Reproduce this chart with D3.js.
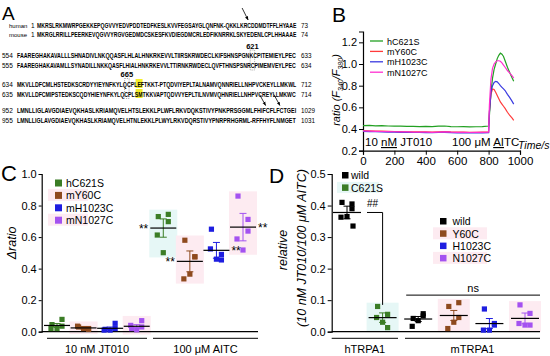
<!DOCTYPE html>
<html>
<head>
<meta charset="utf-8">
<script src="https://cdn.jsdelivr.net/npm/d3@7"></script>
<style>
  body { margin: 0; background: #fff; }
  text { font-family: "Liberation Sans", Arial, sans-serif; fill: #000; }
</style>
</head>
<body>
<script>
// ---------- panel A: alignment text ----------
var seqNames = ["human", "mouse", "554", "555", "634", "635", "952", "955"];
var seqFirst = ["1", "1", "", "", "", "", "", ""];
var seqStrings = [
  "MKRSLRKMWRPGEKKEPQGVVYEDVPDDTEDFKESLKVVFEGSAYGLQNFNK-QKKLKRCDDMDTFFLHYAAE",
  "MKRGLRRILLPEERKEVQGVVYRGVGEDMDCSKESFKVDIEGDMCRLEDFIKNRRKLSKYEDENLCPLHHAAAE",
  "FAAREGHAKAVALLLSHNADIVLNKQQASFLHLALHNKRKEVVLTIIRSKRWDECLKIFSHNSPGNKCPITEMIEYLPEC",
  "FAAREGHAKAVAMLLSYNADILLNKKQASFLHIALHNKRKEVVLTTIRNKRWDECLQVFTHNSPSNRCPIMEMVEYLPEC",
  "MKVLLDFCMLHSTEDKSCRDYYIEYNFKYLQCPLEFTKKT-PTQDVIYEPLTALNAMVQNNRIELLNHPVCKEYLLMKWL",
  "MKVLLDFCMIPSTEDKSCQDYHIEYNFKYLQCPLSMTKKVAPTQDVVYEPLTILNVMVQHNRIELLNHPVCREYLLMKWC",
  "LMNLLIGLAVGDIAEVQKHASLKRIAMQVELHTSLEKKLPLWFLRKVDQKSTIVYPNKPRSGGMLFHIFCFLFCTGEI",
  "LMNLLIGLAVGDIAEVQKHASLKRIAMQVELHTNLEKKLPLWYLRKVDQRSTIVYPNRPRHGRML-RFFHYFLNMGET"
];
var seqLast = ["73", "74", "633", "634", "712", "714", "1029", "1031"];
var siteLabels = ["621", "665"];

// ---------- panel B: Ca traces ----------
var traceTime = [0, 40, 80, 120, 160, 200, 240, 280, 320, 360, 400, 440, 480, 520, 560, 600, 640, 680, 720, 760, 800,
  805, 815, 825, 835, 845, 855, 865, 875, 885, 895, 905, 920, 935, 950, 960];
var traceNames = ["hC621S", "mY60C", "mH1023C", "mN1027C"];
var traceC621S = [0.432, 0.434, 0.430, 0.431, 0.428, 0.426, 0.427, 0.425, 0.424, 0.423, 0.424, 0.422, 0.426, 0.428, 0.423, 0.421, 0.422, 0.420, 0.421, 0.423, 0.428,
  0.52, 0.74, 0.87, 0.95, 1.00, 1.05, 1.08, 1.10, 1.09, 1.07, 1.03, 0.97, 0.92, 0.87, 0.84];
var traceY60C = [0.385, 0.383, 0.381, 0.380, 0.378, 0.377, 0.376, 0.375, 0.374, 0.373, 0.373, 0.372, 0.374, 0.376, 0.373, 0.372, 0.371, 0.370, 0.370, 0.371, 0.372,
  0.56, 0.72, 0.77, 0.765, 0.74, 0.71, 0.68, 0.65, 0.63, 0.61, 0.59, 0.555, 0.525, 0.50, 0.48];
var traceH1023C = [0.378, 0.376, 0.375, 0.374, 0.372, 0.371, 0.370, 0.369, 0.368, 0.368, 0.367, 0.366, 0.368, 0.369, 0.366, 0.365, 0.365, 0.364, 0.364, 0.365, 0.366,
  0.55, 0.74, 0.80, 0.83, 0.84, 0.835, 0.82, 0.80, 0.785, 0.77, 0.755, 0.72, 0.69, 0.655, 0.63];
var traceN1027C = [0.382, 0.380, 0.378, 0.377, 0.376, 0.375, 0.374, 0.373, 0.372, 0.372, 0.371, 0.370, 0.372, 0.374, 0.371, 0.370, 0.369, 0.368, 0.369, 0.370, 0.371,
  0.62, 0.86, 0.96, 1.00, 1.02, 1.03, 1.03, 1.025, 1.01, 0.99, 0.97, 0.94, 0.915, 0.89, 0.87];
var traceColors = ["#22a022", "#ff3b3b", "#3a3ae0", "#ff30d0"];
var bTicksY = [0.2, 0.4, 0.6, 0.8, 1.0, 1.2];
var bTicksX = [0, 200, 400, 600, 800, 1000];

// ---------- panel C: delta ratio ----------
var cNames = ["hC621S", "mY60C", "mH1023C", "mN1027C"];
var cColors = ["#3b7d26", "#8e4a1e", "#1e1ee0", "#a452f0"];
var cJT010 = [[0.045, 0.078, 0.035, 0.02, 0.02], [0.03, 0.02, 0.015, 0.035, 0.02], [0.015, 0.02, 0.053, 0.01, 0.01], [0.02, 0.03, 0.07, 0.04, 0.012]];
var cAITC = [[0.73, 0.744, 0.698, 0.613, 0.501], [0.58, 0.475, 0.475, 0.335, 0.365], [0.65, 0.455, 0.49, 0.525, 0.46], [0.86, 0.712, 0.638, 0.588, 0.518]];
var cErrJT010 = [0.012, 0.005, 0.008, 0.01];
var cErrAITC = [0.058, 0.066, 0.05, 0.087];
var cTicks = [0, 0.2, 0.4, 0.6, 0.8, 1.0];
var cConditions = ["10 nM JT010", "100 \u03bcM AITC"];

// ---------- panel D: relative response ----------
var dNames = ["wild", "C621S", "wild", "Y60C", "H1023C", "N1027C"];
var dColors = ["#000000", "#3b7d26", "#000000", "#8e4a1e", "#1e1ee0", "#a452f0"];
var dValues = [[0.41, 0.405, 0.39, 0.363, 0.365, 0.335], [0.08, 0.013, 0.055, 0.045, 0.03], [0.042, 0.057, 0.05, 0.017, 0.035],
  [0.08, 0.092, 0.045, 0.01, 0.03], [0.072, 0.021, 0.026, 0.005, 0.005], [0.085, 0.058, 0.021, 0.026, 0.021]];
var dErr = [0.02, 0.015, 0.008, 0.016, 0.016, 0.017];
var dTicks = [0, 0.1, 0.2, 0.3, 0.4, 0.5];
var dSpecies = ["hTRPA1", "mTRPA1"];

var pink = "#fdebf1", cyan = "#e6f7f6";
var jitter = [-5, 5, 5, -6, 0, 6];

var svg = d3.select("body").append("svg")
  .attr("width", 550).attr("height", 356);
svg.append("rect").attr("width", 550).attr("height", 356).attr("fill", "#fff");

svg.append("defs").append("marker")
  .attr("id", "arr").attr("viewBox", "0 0 10 10")
  .attr("refX", 9).attr("refY", 5)
  .attr("markerWidth", 5).attr("markerHeight", 5)
  .attr("orient", "auto")
  .append("path").attr("d", "M0,1L10,5L0,9Z").attr("fill", "#000");

function panelLabel(t, x, y, size) {
  svg.append("text").attr("x", x).attr("y", y).attr("font-size", size).text(t);
}

// ================= A =================
panelLabel("A", 2, 20, 19);
var rowY = [27.5, 37, 58, 68, 86.5, 96.5, 113, 122.5];
var seqEnd = 296;
function seqStart(i) { return i < 2 ? 37 : 17; }
function charX(i, k) {
  var s = seqStart(i);
  return s + (k + 0.5) * (seqEnd - s) / seqStrings[i].length;
}
var charW = function (i) { return (seqEnd - seqStart(i)) / seqStrings[i].length; };

// highlights on E/F and S/M
[4, 5].forEach(function (i) {
  svg.append("rect").attr("x", charX(i, 34) - charW(i) / 2).attr("y", rowY[i] - 7.5)
    .attr("width", charW(i) * 2).attr("height", 9).attr("fill", "#f4ee2a");
});
// dashed boxes around the cysteine sites
[[2, 67], [4, 31]].forEach(function (b) {
  svg.append("rect").attr("x", charX(b[0], b[1]) - charW(b[0]) / 2 - 0.5).attr("y", rowY[b[0]] - 8)
    .attr("width", charW(b[0]) + 1).attr("height", rowY[b[0] + 1] - rowY[b[0]] + 10)
    .attr("fill", "none").attr("stroke", "#777").attr("stroke-width", 0.6).attr("stroke-dasharray", "1.2,1");
});
svg.append("text").attr("x", charX(2, 67)).attr("y", rowY[2] - 9.5).attr("text-anchor", "middle")
  .attr("font-size", 7.5).attr("font-weight", "bold").text(siteLabels[0]);
svg.append("text").attr("x", charX(4, 31)).attr("y", rowY[4] - 9.5).attr("text-anchor", "middle")
  .attr("font-size", 7.5).attr("font-weight", "bold").text(siteLabels[1]);

seqStrings.forEach(function (s, i) {
  if (i < 2) {
    svg.append("text").attr("x", 9).attr("y", rowY[i]).attr("font-size", 6).attr("fill", "#333").text(seqNames[i]);
    svg.append("text").attr("x", 31).attr("y", rowY[i]).attr("font-size", 6.5).attr("fill", "#222").text(seqFirst[i]);
  } else {
    svg.append("text").attr("x", 2).attr("y", rowY[i]).attr("font-size", 6.5).attr("fill", "#222").text(seqNames[i]);
  }
  // sequence squeezed horizontally to fit its row
  var t = svg.append("text").attr("x", 0).attr("y", 0)
    .attr("font-size", 7.2).attr("font-weight", "bold").attr("fill", "#222")
    .text(s);
  var w = t.node().getComputedTextLength();
  t.attr("transform", "translate(" + seqStart(i) + "," + rowY[i] + ") scale(" + ((seqEnd - seqStart(i)) / w) + ",1)");
  svg.append("text").attr("x", 301).attr("y", rowY[i]).attr("font-size", 6.3).attr("fill", "#222").text(seqLast[i]);
});

// arrows pointing at cysteines
[[0, 59, 10], [6, 69, 9], [6, 73, 9]].forEach(function (a) {
  var tx = charX(a[0], a[1]), ty = rowY[a[0]] - 7.5;
  svg.append("line").attr("x1", tx - 6).attr("y1", ty - a[2] - 2).attr("x2", tx).attr("y2", ty)
    .attr("stroke", "#000").attr("stroke-width", 0.8).attr("marker-end", "url(#arr)");
});

// ================= B =================
panelLabel("B", 332, 22, 21);
var xB = d3.scaleLinear().domain([0, 1000]).range([363, 520]);
var yB = d3.scaleLinear().domain([0.2, 1.3]).range([150.7, 31.5]);

var gBy = svg.append("g").attr("transform", "translate(363,0)")
  .call(d3.axisLeft(yB).tickValues(bTicksY).tickFormat(d3.format(".1f")).tickSize(4).tickPadding(2));
var gBx = svg.append("g").attr("transform", "translate(0,150.7)")
  .call(d3.axisBottom(xB).tickValues(bTicksX).tickFormat(d3.format("d")).tickSize(4).tickPadding(2));
gBy.selectAll("text").attr("font-size", 11);
gBx.selectAll("text").attr("font-size", 11.5);
[gBy, gBx].forEach(function (g) {
  g.selectAll("text").style("font-family", "'Liberation Sans', Arial, sans-serif");
  g.select(".domain").attr("stroke-width", 1.2);
});

var traces = [traceC621S, traceY60C, traceH1023C, traceN1027C];
var lineB = d3.line().x(function (d, i) { return xB(traceTime[i]); }).y(function (d) { return yB(d); });
traces.forEach(function (t, i) {
  svg.append("path").datum(t).attr("d", lineB).attr("fill", "none")
    .attr("stroke", traceColors[i]).attr("stroke-width", 1.2);
});

var legB = svg.append("g").selectAll("g").data(traceNames).enter().append("g")
  .attr("transform", function (d, i) { return "translate(370," + (41 + i * 10.4) + ")"; });
legB.append("line").attr("x1", 0).attr("x2", 13).attr("stroke", function (d, i) { return traceColors[i]; }).attr("stroke-width", 1.3);
legB.append("text").attr("x", 17).attr("y", 3.5).attr("font-size", 9).text(function (d) { return d; });

var tB1 = svg.append("text").attr("x", 365).attr("y", 146).attr("font-size", 11.5);
tB1.append("tspan").text("10 ");
tB1.append("tspan").style("text-decoration", "underline").text("nM");
tB1.append("tspan").text(" JT010");
var tB2 = svg.append("text").attr("x", 452).attr("y", 146).attr("font-size", 11.5);
tB2.append("tspan").text("100 \u03bcM ");
tB2.append("tspan").style("text-decoration", "underline").text("AI");
tB2.append("tspan").text("TC");
svg.append("text").attr("x", 518).attr("y", 149).attr("font-size", 10.5).attr("font-style", "italic").text("Time/s");

var yLabB = svg.append("text").attr("transform", "translate(340,90) rotate(-90)")
  .attr("text-anchor", "middle").attr("font-size", 11).attr("font-style", "italic");
yLabB.append("tspan").text("ratio (F");
yLabB.append("tspan").attr("font-size", 7).attr("dy", 3).text("340");
yLabB.append("tspan").attr("dy", -3).text("/F");
yLabB.append("tspan").attr("font-size", 7).attr("dy", 3).text("380");
yLabB.append("tspan").attr("dy", -3).text(")");

// ================= C =================
panelLabel("C", 1, 181, 22);
var cKeys = ["j0", "j1", "j2", "j3", "a0", "a1", "a2", "a3"];
var xC = d3.scalePoint().domain(cKeys).range([57, 243]);
var yC = d3.scaleLinear().domain([0, 1]).range([331.7, 174]);

var cGroups = [];
cJT010.forEach(function (v, i) { cGroups.push({ key: cKeys[i], vals: v, err: cErrJT010[i], color: cColors[i], bg: [null, pink, null, pink][i] }); });
cAITC.forEach(function (v, i) { cGroups.push({ key: cKeys[i + 4], vals: v, err: cErrAITC[i], color: cColors[i], bg: [cyan, pink, null, pink][i] }); });

// faint shading behind some groups
cGroups.forEach(function (g) {
  if (!g.bg) return;
  svg.append("rect").attr("x", xC(g.key) - 14).attr("width", 28)
    .attr("y", yC(d3.max(g.vals) + 0.03)).attr("height", yC(d3.min(g.vals) - 0.03) - yC(d3.max(g.vals) + 0.03))
    .attr("fill", g.bg);
});

var gCy = svg.append("g").attr("transform", "translate(41.7,0)")
  .call(d3.axisLeft(yC).tickValues(cTicks).tickFormat(d3.format(".1f")).tickSize(3).tickPadding(2));
gCy.selectAll("text").attr("font-size", 11).style("font-family", "'Liberation Sans', Arial, sans-serif");
gCy.select(".domain").attr("stroke-width", 1.2);
svg.append("line").attr("x1", 41.7).attr("x2", 258).attr("y1", yC(0)).attr("y2", yC(0)).attr("stroke", "#000").attr("stroke-width", 1.2);

function drawGroups(groups, xs, ys, half) {
  groups.forEach(function (g) {
    var cx = xs(g.key), m = d3.mean(g.vals);
    svg.selectAll(null).data(g.vals).enter().append("rect")
      .attr("x", function (d, i) { return cx + jitter[i] - 2.6; })
      .attr("y", function (d) { return ys(d) - 2.6; })
      .attr("width", 5.2).attr("height", 5.2).attr("fill", g.color);
    svg.append("line").attr("x1", cx).attr("x2", cx).attr("y1", ys(m - g.err)).attr("y2", ys(m + g.err))
      .attr("stroke", g.color).attr("stroke-width", 1);
    [m - g.err, m + g.err].forEach(function (e) {
      svg.append("line").attr("x1", cx - 3.5).attr("x2", cx + 3.5).attr("y1", ys(e)).attr("y2", ys(e))
        .attr("stroke", g.color).attr("stroke-width", 1);
    });
    svg.append("line").attr("x1", cx - half).attr("x2", cx + half).attr("y1", ys(m)).attr("y2", ys(m))
      .attr("stroke", "#000").attr("stroke-width", 1.2);
    g.mean = m;
  });
}
drawGroups(cGroups, xC, yC, 13);

// significance stars
[[4, "end", -15], [5, "end", -15], [6, "start", 15], [7, "start", 15]].forEach(function (s) {
  var g = cGroups[s[0]];
  svg.append("text").attr("x", xC(g.key) + s[2]).attr("y", yC(g.mean) + 5)
    .attr("text-anchor", s[1]).attr("font-size", 12).text("**");
});

// legend C
var legC = svg.append("g").selectAll("g").data(cNames).enter().append("g")
  .attr("transform", function (d, i) { return "translate(55," + (182.5 + i * 12.4) + ")"; });
legC.filter(function (d, i) { return i % 2 === 1; }).append("rect")
  .attr("x", -7).attr("y", -6).attr("width", 40).attr("height", 12).attr("fill", pink);
legC.append("rect").attr("x", 0).attr("y", -3).attr("width", 7).attr("height", 7)
  .attr("fill", function (d, i) { return cColors[i]; });
legC.append("text").attr("x", 11).attr("y", 4.3).attr("font-size", 10.5).text(function (d) { return d; });

// condition brackets
var cSplit = (xC("j3") + xC("a0")) / 2;
[[47, cSplit - 3, cConditions[0]], [cSplit + 3, 258, cConditions[1]]].forEach(function (b) {
  svg.append("line").attr("x1", b[0]).attr("x2", b[1]).attr("y1", 338.3).attr("y2", 338.3).attr("stroke", "#000").attr("stroke-width", 1);
  svg.append("text").attr("x", (b[0] + b[1]) / 2).attr("y", 352.5).attr("text-anchor", "middle").attr("font-size", 11).text(b[2]);
});

svg.append("text").attr("transform", "translate(16,243) rotate(-90)").attr("text-anchor", "middle")
  .attr("font-size", 12.5).attr("font-style", "italic").text("\u0394ratio");

// ================= D =================
panelLabel("D", 269, 183, 21);
var dKeys = ["hw", "hc", "mw", "my", "mh", "mn"];
var xD = d3.scalePoint().domain(dKeys).range([347, 525]);
var yD = d3.scaleLinear().domain([0, 0.5]).range([331.7, 174]);
var dBg = [null, cyan, null, pink, null, pink];
var dGroups = dValues.map(function (v, i) { return { key: dKeys[i], vals: v, err: dErr[i], color: dColors[i], bg: dBg[i] }; });

dGroups.forEach(function (g) {
  if (!g.bg) return;
  svg.append("rect").attr("x", xD(g.key) - 16).attr("width", 32)
    .attr("y", yD(d3.max(g.vals) + 0.012)).attr("height", yD(0) - yD(d3.max(g.vals) + 0.012))
    .attr("fill", g.bg);
});

var gDy = svg.append("g").attr("transform", "translate(331.7,0)")
  .call(d3.axisLeft(yD).tickValues(dTicks).tickFormat(d3.format(".1f")).tickSize(4).tickPadding(2));
gDy.selectAll("text").attr("font-size", 11).style("font-family", "'Liberation Sans', Arial, sans-serif");
gDy.select(".domain").attr("stroke-width", 1.2);
svg.append("line").attr("x1", 331.7).attr("x2", 540).attr("y1", yD(0)).attr("y2", yD(0)).attr("stroke", "#000").attr("stroke-width", 1.2);

drawGroups(dGroups, xD, yD, 14);

// ## bracket
var hw = dGroups[0], hc = dGroups[1];
svg.append("path").attr("d", "M" + (xD("hw") + 20) + "," + yD(hw.mean) + "H" + xD("hc") + "V" + yD(d3.max(hc.vals) + 0.005))
  .attr("fill", "none").attr("stroke", "#000").attr("stroke-width", 1);
svg.append("text").attr("x", xD("hw") + 20).attr("y", yD(hw.mean) - 5).attr("font-size", 10).text("##");

// ns line
svg.append("line").attr("x1", xD("mw") - 12).attr("x2", 540).attr("y1", yD(0.116)).attr("y2", yD(0.116)).attr("stroke", "#000").attr("stroke-width", 1);
svg.append("text").attr("x", (xD("mw") - 12 + 540) / 2).attr("y", yD(0.116) - 3).attr("text-anchor", "middle").attr("font-size", 11).text("ns");

// legends D
var legD1 = svg.append("g").selectAll("g").data(dNames.slice(0, 2)).enter().append("g")
  .attr("transform", function (d, i) { return "translate(342," + (175 + i * 12.4) + ")"; });
legD1.filter(function (d, i) { return i === 1; }).append("rect").attr("x", -5).attr("y", -5.5).attr("width", 42).attr("height", 11).attr("fill", cyan);
legD1.append("rect").attr("x", 0).attr("y", -3).attr("width", 6.5).attr("height", 6.5).attr("fill", function (d, i) { return dColors[i]; });
legD1.append("text").attr("x", 9).attr("y", 4.2).attr("font-size", 10.5).text(function (d) { return d; });

var legD2 = svg.append("g").selectAll("g").data(dNames.slice(2)).enter().append("g")
  .attr("transform", function (d, i) { return "translate(440," + (221 + i * 12.3) + ")"; });
legD2.filter(function (d, i) { return i % 2 === 1; }).append("rect").attr("x", -7).attr("y", -6).attr("width", 54).attr("height", 12).attr("fill", pink);
legD2.append("rect").attr("x", 0).attr("y", -3).attr("width", 6.5).attr("height", 6.5).attr("fill", function (d, i) { return dColors[i + 2]; });
legD2.append("text").attr("x", 12.5).attr("y", 4.2).attr("font-size", 10.5).text(function (d) { return d; });

// species brackets
[[331.7, 398, dSpecies[0]], [405, 540, dSpecies[1]]].forEach(function (b) {
  svg.append("line").attr("x1", b[0]).attr("x2", b[1]).attr("y1", 338.3).attr("y2", 338.3).attr("stroke", "#000").attr("stroke-width", 1);
  svg.append("text").attr("x", (b[0] + b[1]) / 2).attr("y", 352.5).attr("text-anchor", "middle").attr("font-size", 11).text(b[2]);
});

svg.append("text").attr("transform", "translate(287,250) rotate(-90)").attr("text-anchor", "middle")
  .attr("font-size", 12.5).attr("font-style", "italic").text("relative");
svg.append("text").attr("transform", "translate(306,248) rotate(-90)").attr("text-anchor", "middle")
  .attr("font-size", 12.5).attr("font-style", "italic").text("(10 nM JT010/100 \u03bcM AITC)");
</script>
</body>
</html>
